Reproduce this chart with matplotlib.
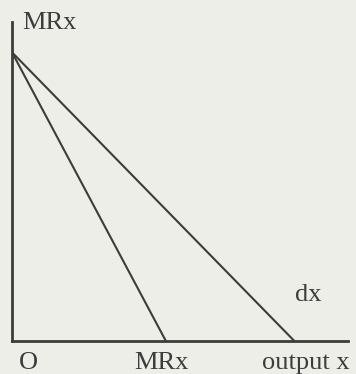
import matplotlib
matplotlib.use('Agg')
import matplotlib.pyplot as plt

# demand curve dx and marginal revenue MRx (linear)
demand_q = [0, 10.0]
demand_p = [10.0, 0]
mr_q = [0, 5.45]
mr_p = [10.0, 0]

plt.rcParams['font.family'] = ['Liberation Serif', 'DejaVu Serif']

bg = '#eeeee8'
ink = '#3c3c3c'

fig = plt.figure(figsize=(3.56, 3.74), dpi=100, facecolor=bg)
ax = fig.add_axes([12 / 356, 33 / 374, 336 / 356, 319 / 374])
ax.set_facecolor(bg)
ax.set_xlim(0, 11.9)
ax.set_ylim(0, 11.05)

ax.plot(demand_q, demand_p, color=ink, lw=1.5, solid_capstyle='butt')
ax.plot(mr_q, mr_p, color=ink, lw=1.5, solid_capstyle='butt')

for s in ['top', 'right']:
    ax.spines[s].set_visible(False)
for s in ['left', 'bottom']:
    ax.spines[s].set_color(ink)
    ax.spines[s].set_linewidth(2)
ax.set_xticks([])
ax.set_yticks([])

fs = 19
ax.text(0.35, 11.0, 'MRx', fontsize=fs, color=ink, ha='left', va='center')
ax.text(0.57, -0.96, 'O', fontsize=fs, color=ink, ha='center', va='baseline')
ax.text(5.3, -0.96, 'MRx', fontsize=fs, color=ink, ha='center', va='baseline')
ax.text(10.4, -0.96, 'output x', fontsize=fs, color=ink, ha='center', va='baseline')
ax.text(10.5, 1.6, 'dx', fontsize=fs, color=ink, ha='center', va='center')

for t in ax.texts:
    t.set_clip_on(False)

fig.savefig('out.png', dpi=100, facecolor=bg)
